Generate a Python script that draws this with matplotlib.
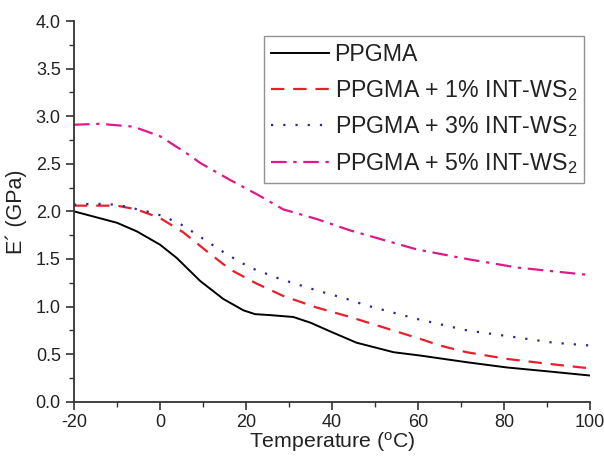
import matplotlib
matplotlib.use("Agg")
import matplotlib.pyplot as plt
from matplotlib.ticker import MultipleLocator

plt.rcParams['font.family'] = ['Liberation Sans', 'DejaVu Sans']
plt.rcParams['mathtext.default'] = 'regular'
plt.rcParams['axes.unicode_minus'] = False

# Data
t_black = [-20, -10, -5.4, 0, 3.9, 9.3, 14.7, 19.4, 22.1, 25.6, 31, 35, 40, 45.7, 54.3, 60.5, 71.3, 80.6, 89.9, 100]
e_black = [2.0, 1.88, 1.79, 1.65, 1.51, 1.27, 1.08, 0.96, 0.92, 0.91, 0.89, 0.83, 0.73, 0.62, 0.52, 0.485, 0.415, 0.36, 0.32, 0.275]

t_red = [-20, -10, -5.4, 0, 5.4, 10.9, 16.3, 22.5, 28.7, 36.4, 44.2, 52, 60.5, 65.1, 71.3, 80.6, 89.9, 100]
e_red = [2.06, 2.06, 2.02, 1.93, 1.78, 1.58, 1.39, 1.24, 1.11, 0.99, 0.89, 0.78, 0.66, 0.59, 0.52, 0.45, 0.40, 0.35]

t_blue = [-20, -15, -10, -3.1, 0.8, 5.4, 10.1, 15.5, 20.9, 27.9, 36.4, 43.4, 48.1, 59.7, 71.3, 82.2, 91.5, 100]
e_blue = [2.07, 2.08, 2.07, 2.0, 1.95, 1.85, 1.71, 1.55, 1.41, 1.29, 1.17, 1.08, 1.01, 0.87, 0.75, 0.68, 0.62, 0.59]

t_mag = [-20, -14, -6.2, 0, 6.2, 9.3, 16.3, 22.5, 28.7, 36.4, 44.2, 59.7, 71.3, 83, 100]
e_mag = [2.91, 2.92, 2.89, 2.79, 2.61, 2.51, 2.33, 2.18, 2.02, 1.92, 1.80, 1.60, 1.50, 1.41, 1.33]

labels = ['PPGMA', 'PPGMA + 1% INT-WS$_2$', 'PPGMA + 3% INT-WS$_2$', 'PPGMA + 5% INT-WS$_2$']

fig = plt.figure(figsize=(6.04, 4.57), dpi=100)
ax = fig.add_axes([0.1225, 0.121, 0.8545, 0.833])

ax.plot(t_black, e_black, color='black', lw=1.4, label=labels[0])
ax.plot(t_red, e_red, color='#e8202a', lw=1.6, dashes=(6, 4), label=labels[1])
ax.plot(t_blue, e_blue, color='#2a2a96', lw=1.6, dashes=(1, 4.5), label=labels[2])
ax.plot(t_mag, e_mag, color='#e0198a', lw=1.6, dashes=(7, 3, 1.5, 3), label=labels[3])

ax.set_xlim(-20, 100)
ax.set_ylim(0, 4.0)
ax.xaxis.set_major_locator(MultipleLocator(20))
ax.xaxis.set_minor_locator(MultipleLocator(10))
ax.yaxis.set_major_locator(MultipleLocator(0.5))
ax.yaxis.set_minor_locator(MultipleLocator(0.25))
ax.set_yticklabels([f'{v:.1f}' for v in ax.get_yticks()])

for s in ['top', 'right']:
    ax.spines[s].set_visible(False)
for s in ['left', 'bottom']:
    ax.spines[s].set_linewidth(1.3)
    ax.spines[s].set_color('#333333')
ax.tick_params(which='major', direction='out', length=6, width=1.2, labelsize=13, colors='#333333', labelcolor='#222222')
ax.tick_params(axis='x', which='major', pad=2.5)
ax.tick_params(which='minor', direction='out', length=3.5, width=1.0, colors='#333333')

ax.set_xlabel('Temperature ($^{o}$C)', fontsize=15.3, color='#222222', labelpad=-0.5)
ax.set_ylabel('E´ (GPa)', fontsize=15.5, color='#222222', labelpad=6)

leg = ax.legend(loc='upper right', bbox_to_anchor=(0.988, 0.96), fontsize=16.7,
                handlelength=2.5, handletextpad=0.25, labelspacing=0.5,
                borderpad=0.3, borderaxespad=0, fancybox=False, frameon=True)
leg.get_frame().set_edgecolor('#777777')
leg.get_frame().set_linewidth(1.0)
for tx in leg.get_texts():
    tx.set_color('#222222')

fig.savefig('out.png', dpi=100)
